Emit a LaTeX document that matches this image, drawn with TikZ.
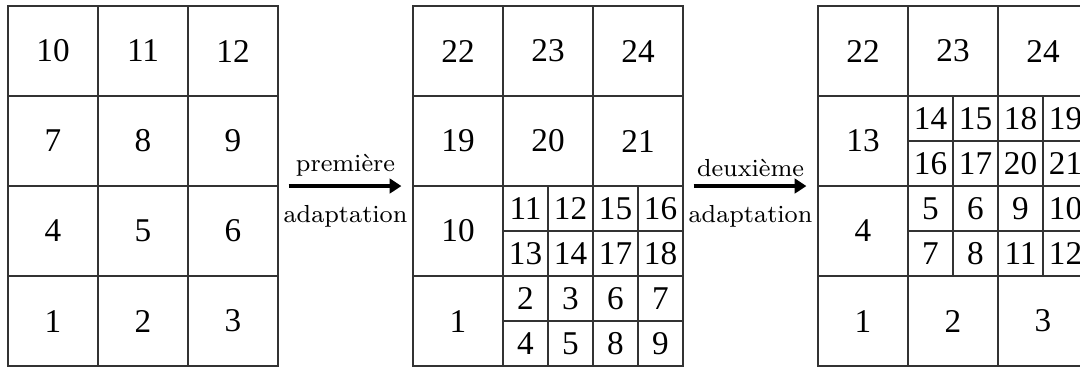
\documentclass[tikz,border=0pt]{standalone}
\usepackage{fontspec}
\newfontfamily\numfont{Liberation Serif}
\usepackage{tikz}
\usetikzlibrary{positioning,arrows.meta}

\begin{document}
\begin{tikzpicture}[
  frame/.style={draw=black!85, line width=0.5pt, minimum width=3cm,
                minimum height=4cm, inner sep=0pt},
  bigcell/.style={draw=black!80, line width=0.4pt, minimum size=1cm,
                  inner sep=0pt, font=\numfont\fontsize{10.5}{12}\selectfont},
  smallcell/.style={draw=black!80, line width=0.4pt, minimum size=0.5cm,
                    inner sep=0pt, font=\numfont\fontsize{10.5}{12}\selectfont},
  lbl/.style={font=\fontsize{7.8}{9}\selectfont, inner sep=2.5pt},
  arr/.style={-{Triangle[length=1.3mm, width=1.6mm]}, line width=1pt,
              shorten <=1.1mm, shorten >=1.2mm}
]
  \useasboundingbox (-0.089,-0.011) rectangle (11.911,4.067);
  \clip (-0.089,-0.011) rectangle (11.911,4.067);

  % initial mesh
  \node[frame] (ini) at (1.5,2) {};
  \foreach \x in {0,1,2}
    \foreach \y in {0,1,2,3} {
      \pgfmathtruncatemacro{\n}{3*\y+\x+1}
      \node[bigcell] (a\n) at (\x+0.5,\y+0.5) {\n};
    }

  % after the first adaptation
  \node[frame] (first) at (6,2) {};
  \foreach \x/\y/\n in {0/3/22, 1/3/23, 2/3/24, 0/2/19, 1/2/20, 2/2/21,
                        0/1/10, 0/0/1}
    \node[bigcell] (b\n) at (4.5+\x+0.5,\y+0.5) {\n};
  \foreach \x/\y/\n in {0/3/11, 1/3/12, 2/3/15, 3/3/16,
                        0/2/13, 1/2/14, 2/2/17, 3/2/18,
                        0/1/2,  1/1/3,  2/1/6,  3/1/7,
                        0/0/4,  1/0/5,  2/0/8,  3/0/9}
    \node[smallcell] (b\n) at (5.5+0.5*\x+0.25,0.5*\y+0.25) {\n};

  % after the second adaptation
  \node[frame] (second) at (10.5,2) {};
  \foreach \x/\y/\n in {0/3/22, 1/3/23, 2/3/24, 0/2/13, 0/1/4,
                        0/0/1, 1/0/2, 2/0/3}
    \node[bigcell] (c\n) at (9+\x+0.5,\y+0.5) {\n};
  \foreach \x/\y/\n in {0/3/14, 1/3/15, 2/3/18, 3/3/19,
                        0/2/16, 1/2/17, 2/2/20, 3/2/21,
                        0/1/5,  1/1/6,  2/1/9,  3/1/10,
                        0/0/7,  1/0/8,  2/0/11, 3/0/12}
    \node[smallcell] (c\n) at (10+0.5*\x+0.25,1+0.5*\y+0.25) {\n};

  \draw[arr] (ini) -- (first)
    node[lbl, midway, above] (t1) {première}
    node[lbl, midway, below, yshift=-3pt] (u1) {adaptation};
  \draw[arr] (first) -- (second)
    node[lbl, midway, above] (t2) {deuxième}
    node[lbl, midway, below, yshift=-3pt] (u2) {adaptation};
\end{tikzpicture}
\end{document}
